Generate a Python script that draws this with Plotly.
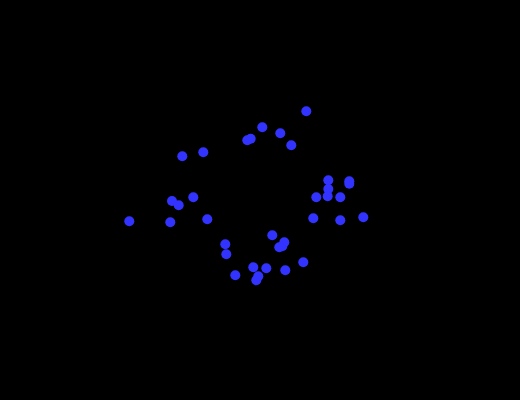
import plotly.graph_objects as go

x_vals = [306.3, 262.3, 280.3, 247.3, 250.7, 291.3, 203.3, 182.3, 328.3, 349.3,
          349.3, 328.3, 327.7, 316.3, 340.3, 193.3, 172.0, 178.7, 313.3, 340.3,
          363.3, 129.3, 170.3, 207.3, 272.3, 282.3, 284.3, 279.3, 225.3, 226.3,
          303.3, 253.3, 266.3, 285.3, 235.3, 256.3, 258.3]
y_pix = [111.3, 127.3, 133.3, 140.3, 138.7, 145.3, 152.3, 156.3, 180.3, 183.7,
         181.3, 189.0, 196.3, 197.3, 197.3, 197.3, 201.0, 205.3, 218.3, 220.3,
         217.3, 221.3, 222.3, 219.3, 235.3, 246.3, 242.3, 247.3, 244.3, 254.3,
         262.3, 267.3, 268.3, 270.3, 275.3, 280.3, 276.3]
y_vals = [400 - v for v in y_pix]

fig = go.Figure(go.Scatter(
    x=x_vals, y=y_vals, mode="markers",
    marker=dict(size=10, color="rgb(51,51,255)", line=dict(width=0)),
    hoverinfo="skip",
))
fig.update_layout(
    width=520, height=400,
    margin=dict(l=0, r=0, t=0, b=0),
    paper_bgcolor="black", plot_bgcolor="black",
    showlegend=False,
    xaxis=dict(range=[0, 520], visible=False),
    yaxis=dict(range=[0, 400], visible=False),
)
fig.write_html("out.html", config={"displayModeBar": False})
